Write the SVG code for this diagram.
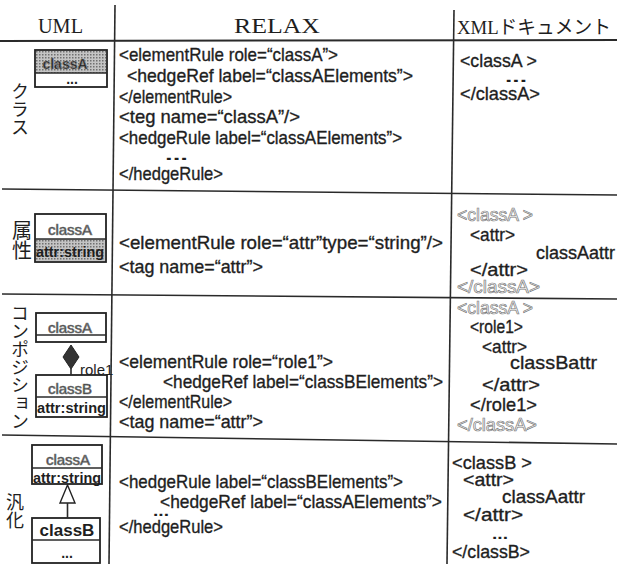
<svg xmlns="http://www.w3.org/2000/svg" width="617" height="564" viewBox="0 0 617 564">
<style>
.c{font-family:"Liberation Sans","Noto Sans",sans-serif;font-size:19px;fill:#1e1e1e;stroke:#1e1e1e;stroke-width:0.35px;}
.lt{fill:#fafafa;stroke:#7a7a7a;stroke-width:0.7px;}
.u{font-family:"Liberation Sans",sans-serif;font-size:14px;fill:#1e1e1e;}
.b{font-weight:bold;}
.d{font-family:"Liberation Sans",sans-serif;font-size:14px;font-weight:bold;fill:#1e1e1e;}
.jp{font-family:"Noto Sans CJK JP",sans-serif;font-size:18px;fill:#1e1e1e;writing-mode:vertical-rl;}
.h{font-family:"Liberation Serif","Noto Sans CJK JP",serif;font-size:21px;fill:#1e1e1e;}
.ln{stroke:#2a2a2a;stroke-width:1.6;fill:none;}
.bx{stroke:#222;stroke-width:1.8;fill:#fff;}
</style>
<defs>
<pattern id="dots" width="3" height="3" patternUnits="userSpaceOnUse">
<rect width="3" height="3" fill="#c4c4c4"/>
<rect width="1.5" height="1.5" fill="#707070"/>
</pattern>
</defs>
<rect width="617" height="564" fill="#fff"/>

<g id="grid">
<line class="ln" x1="0" y1="41" x2="617" y2="40" style="stroke-width:2"/>
<line class="ln" x1="115" y1="5" x2="109" y2="564"/>
<line class="ln" x1="454" y1="10" x2="447" y2="564"/>
<line class="ln" x1="2" y1="189" x2="617" y2="195"/>
<line class="ln" x1="2" y1="294" x2="617" y2="299"/>
<line class="ln" x1="2" y1="435" x2="617" y2="444"/>
</g>

<g id="header">
<text class="h" x="38" y="33" textLength="45" lengthAdjust="spacingAndGlyphs">UML</text>
<text class="h" x="234" y="33" textLength="86" lengthAdjust="spacingAndGlyphs">RELAX</text>
<text class="h" x="457" y="34" textLength="154" lengthAdjust="spacingAndGlyphs" style="font-size:19px">XMLドキュメント</text>
</g>

<g id="row-class">
<text class="jp" x="20" y="82">クラス</text>
<g id="uml-classA-1">
<rect class="bx" x="35" y="50" width="72" height="37"/>
<rect x="36" y="51" width="70" height="22" fill="url(#dots)"/>
<line class="ln" x1="35" y1="73" x2="107" y2="73"/>
<text class="u b lt" x="65" y="69" text-anchor="middle">classA</text>
<text class="d" x="72" y="84" text-anchor="middle">...</text>
</g>
<g id="relax-1">
<text class="c" x="119" y="61" textLength="219" lengthAdjust="spacingAndGlyphs">&lt;elementRule role=“classA”&gt;</text>
<text class="c" x="127" y="82" textLength="286" lengthAdjust="spacingAndGlyphs">&lt;hedgeRef label=“classAElements”&gt;</text>
<text class="c" x="119" y="103" textLength="113" lengthAdjust="spacingAndGlyphs">&lt;/elementRule&gt;</text>
<text class="c" x="119" y="123" textLength="181" lengthAdjust="spacingAndGlyphs">&lt;teg name=“classA”/&gt;</text>
<text class="c" x="119" y="144" textLength="283" lengthAdjust="spacingAndGlyphs">&lt;hedgeRule label=“classAElements”&gt;</text>
<text class="d" x="165" y="160" textLength="23" lengthAdjust="spacingAndGlyphs">...</text>
<text class="c" x="119" y="180" textLength="104" lengthAdjust="spacingAndGlyphs">&lt;/hedgeRule&gt;</text>
</g>
<g id="xml-1">
<text class="c" x="460" y="67" textLength="77" lengthAdjust="spacingAndGlyphs">&lt;classA &gt;</text>
<text class="d" x="505" y="82" textLength="22" lengthAdjust="spacingAndGlyphs">...</text>
<text class="c" x="460" y="100" textLength="80" lengthAdjust="spacingAndGlyphs">&lt;/classA&gt;</text>
</g>
</g>

<g id="row-attribute">
<text class="jp" x="22" y="220" style="font-size:20px">属性</text>
<g id="uml-classA-2">
<rect class="bx" x="35" y="214" width="71" height="48"/>
<rect x="36" y="239" width="69" height="22" fill="url(#dots)"/>
<line class="ln" x1="35" y1="239" x2="106" y2="239"/>
<text class="u lt" x="70" y="235" text-anchor="middle" style="font-size:15px">classA</text>
<text class="u b" x="36" y="257" textLength="68" lengthAdjust="spacingAndGlyphs" style="font-size:15px">attr:string</text>
</g>
<g id="relax-2">
<text class="c" x="119" y="249" textLength="324" lengthAdjust="spacingAndGlyphs">&lt;elementRule role=“attr”type=“string”/&gt;</text>
<text class="c" x="119" y="273" textLength="144" lengthAdjust="spacingAndGlyphs">&lt;tag name=“attr”&gt;</text>
</g>
<g id="xml-2">
<text class="c lt" x="457" y="221" textLength="76" lengthAdjust="spacingAndGlyphs">&lt;classA &gt;</text>
<text class="c" x="470" y="241" textLength="45" lengthAdjust="spacingAndGlyphs">&lt;attr&gt;</text>
<text class="c" x="536" y="259" textLength="79" lengthAdjust="spacingAndGlyphs" style="font-size:18px">classAattr</text>
<text class="c" x="470" y="276" textLength="58" lengthAdjust="spacingAndGlyphs">&lt;/attr&gt;</text>
<text class="c lt" x="457" y="293" textLength="83" lengthAdjust="spacingAndGlyphs">&lt;/classA&gt;</text>
</g>
</g>

<g id="row-composition">
<text class="jp" x="20" y="304">コンポジション</text>
<g id="uml-classA-3">
<rect class="bx" x="36" y="313" width="70" height="29"/>
<line class="ln" x1="36" y1="335" x2="106" y2="335"/>
<text class="u lt" x="70" y="333" text-anchor="middle" style="font-size:15px">classA</text>
</g>
<g id="uml-classB-3">
<rect class="bx" x="36" y="375" width="71" height="42"/>
<line class="ln" x1="36" y1="397" x2="107" y2="397"/>
<text class="u lt" x="70" y="394" text-anchor="middle" style="font-size:15px">classB</text>
<text class="u b" x="37" y="413" textLength="69" lengthAdjust="spacingAndGlyphs" style="font-size:15px">attr:string</text>
</g>
<g id="relax-3">
<text class="c" x="119" y="368" textLength="214" lengthAdjust="spacingAndGlyphs">&lt;elementRule role=“role1”&gt;</text>
<text class="c" x="163" y="388" textLength="280" lengthAdjust="spacingAndGlyphs">&lt;hedgeRef label=“classBElements”&gt;</text>
<text class="c" x="119" y="408" textLength="113" lengthAdjust="spacingAndGlyphs">&lt;/elementRule&gt;</text>
<text class="c" x="119" y="428" textLength="144" lengthAdjust="spacingAndGlyphs">&lt;tag name=“attr”&gt;</text>
</g>
<g id="xml-3">
<text class="c lt" x="457" y="314" textLength="76" lengthAdjust="spacingAndGlyphs">&lt;classA &gt;</text>
<text class="c" x="470" y="333" textLength="53" lengthAdjust="spacingAndGlyphs">&lt;role1&gt;</text>
<text class="c" x="482" y="353" textLength="45" lengthAdjust="spacingAndGlyphs">&lt;attr&gt;</text>
<text class="c" x="510" y="369" textLength="87" lengthAdjust="spacingAndGlyphs">classBattr</text>
<text class="c" x="482" y="391" textLength="58" lengthAdjust="spacingAndGlyphs">&lt;/attr&gt;</text>
<text class="c" x="470" y="411" textLength="67" lengthAdjust="spacingAndGlyphs">&lt;/role1&gt;</text>
<text class="c lt" x="457" y="431" textLength="80" lengthAdjust="spacingAndGlyphs">&lt;/classA&gt;</text>
</g>
</g>

<g id="row-generalization">
<text class="jp" x="15" y="493">汎化</text>
<g id="uml-classA-4">
<rect class="bx" x="32" y="445" width="70" height="39"/>
<line class="ln" x1="32" y1="468" x2="102" y2="468"/>
<text class="u lt" x="68" y="465" text-anchor="middle" style="font-size:15px">classA</text>
<text class="u b" x="33" y="483" textLength="68" lengthAdjust="spacingAndGlyphs" style="font-size:15px">attr:string</text>
</g>
<g id="uml-classB-4">
<rect class="bx" x="32" y="518" width="68" height="45"/>
<line class="ln" x1="32" y1="540" x2="100" y2="540"/>
<text class="u b" x="67" y="536" text-anchor="middle" style="font-size:17px">classB</text>
<text class="d" x="67" y="558" text-anchor="middle">...</text>
</g>
<g id="relax-4">
<text class="c" x="119" y="488" textLength="284" lengthAdjust="spacingAndGlyphs">&lt;hedgeRule label=“classBElements”&gt;</text>
<text class="c" x="160" y="508" textLength="282" lengthAdjust="spacingAndGlyphs">&lt;hedgeRef label=“classAElements”&gt;</text>
<text class="d" x="153" y="516" textLength="16" lengthAdjust="spacingAndGlyphs">...</text>
<text class="c" x="119" y="533" textLength="104" lengthAdjust="spacingAndGlyphs">&lt;/hedgeRule&gt;</text>
</g>
<g id="xml-4">
<text class="c" x="452" y="469" textLength="80" lengthAdjust="spacingAndGlyphs">&lt;classB &gt;</text>
<text class="c" x="463" y="486" textLength="51" lengthAdjust="spacingAndGlyphs">&lt;attr&gt;</text>
<text class="c" x="502" y="503" textLength="83" lengthAdjust="spacingAndGlyphs">classAattr</text>
<text class="c" x="463" y="521" textLength="60" lengthAdjust="spacingAndGlyphs">&lt;/attr&gt;</text>
<text class="d" x="492" y="539" textLength="16" lengthAdjust="spacingAndGlyphs">...</text>
<text class="c" x="452" y="558" textLength="78" lengthAdjust="spacingAndGlyphs">&lt;/classB&gt;</text>
</g>
</g>

<g id="connectors">
<path d="M71,345 L79,357 L71,369 L63,357 Z" fill="#333" stroke="#222" stroke-width="1"/>
<line class="ln" x1="71" y1="369" x2="71" y2="375"/>
<text class="u" x="80" y="375" style="font-size:15px">role1</text>
<path d="M67.5,485 L75,503 L60,503 Z" fill="#fff" stroke="#222" stroke-width="1.4"/>
<line class="ln" x1="67.5" y1="503" x2="67.5" y2="518"/>
</g>
</svg>
